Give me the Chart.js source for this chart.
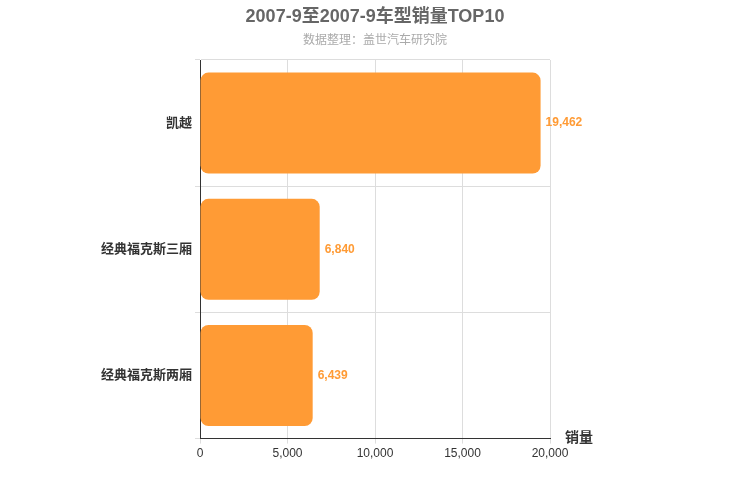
<!DOCTYPE html>
<html><head><meta charset="utf-8">
<script src="https://cdn.jsdelivr.net/npm/chart.js@4/dist/chart.umd.min.js"></script>
<style>body{margin:0;background:#fff}#w{width:750px;height:500px}</style>
</head><body><div id="w"><canvas id="c"></canvas></div>
<script>
const categories = ["凯越","经典福克斯三厢","经典福克斯两厢"];
const sales = [19462, 6840, 6439];
const titleText = "2007-9至2007-9车型销量TOP10";
const subtitleText = "数据整理：盖世汽车研究院";
const axisName = "销量";
const F = "'Liberation Sans', 'Noto Sans CJK SC', sans-serif";

const extras = {
  id: 'extras',
  afterDatasetsDraw(chart) {
    const ctx = chart.ctx, meta = chart.getDatasetMeta(0);
    ctx.save();
    ctx.font = "bold 12px " + F;
    ctx.fillStyle = "#ff9b35";
    ctx.textBaseline = "middle";
    meta.data.forEach((b, i) => {
      ctx.fillText(sales[i].toLocaleString('en-US'), b.x + 5, b.y);
    });
    const ca = chart.chartArea;
    ctx.fillStyle = "#333";
    ctx.font = "bold 14px " + F;
    ctx.textAlign = "left";
    ctx.fillText(axisName, ca.right + 15, ca.bottom);
    ctx.textAlign = "center";
    ctx.fillStyle = "#666";
    ctx.font = "bold 18px " + F;
    ctx.fillText(titleText, 375, 17);
    ctx.fillStyle = "#aaa";
    ctx.font = "12px " + F;
    ctx.fillText(subtitleText, 375, 41);
    ctx.restore();
  }
};

new Chart(document.getElementById('c'), {
  type: 'bar',
  data: { labels: categories, datasets: [{
    data: sales, backgroundColor: '#ff9b35', borderRadius: 8, borderSkipped: false,
    barPercentage: 0.8, categoryPercentage: 1
  }]},
  plugins: [extras],
  options: {
    indexAxis: 'y', responsive: true, maintainAspectRatio: false, animation: false,
    layout: { padding: { left: 0, right: 200, top: 60, bottom: 36 } },
    plugins: { legend: { display: false }, tooltip: { enabled: false } },
    scales: {
      x: { min: 0, max: 20000, ticks: { stepSize: 5000, color: '#333', font: { family: F, size: 12 }, callback: v => v.toLocaleString('en-US') },
           grid: { color: '#ddd', drawTicks: true, tickLength: 5 }, border: { color: '#333' } },
      y: { afterFit(s) { s.width = 200; }, ticks: { color: '#333', font: { family: F, size: 13, weight: 'bold' } },
           grid: { color: '#ddd', offset: true, tickLength: 5 }, border: { color: '#333' } }
    }
  }
});
</script></body></html>
